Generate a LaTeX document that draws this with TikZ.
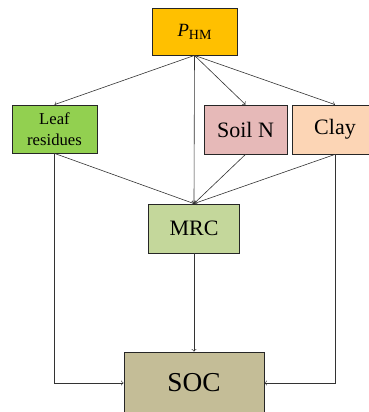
\documentclass[tikz,border=0pt]{standalone}
\usepackage{fontspec}
\setmainfont{Liberation Serif}
\definecolor{phmfill}{HTML}{FFC000}
\definecolor{leaffill}{HTML}{92D050}
\definecolor{soilfill}{HTML}{E6B9B8}
\definecolor{clayfill}{HTML}{FCD5B5}
\definecolor{mrcfill}{HTML}{C4D79B}
\definecolor{socfill}{HTML}{C4BD97}
\begin{document}
\begin{tikzpicture}[x=0.75pt,y=-0.75pt,>=to,
    box/.style={draw=black!85, line width=0.6pt, inner sep=1pt, align=center,
      font=\fontsize{16.5}{17}\selectfont},
    link/.style={->, draw=black!80, line width=0.45pt}]
    \useasboundingbox (0,0) rectangle (369,412);
\node[box, fill=phmfill, minimum width=63.75pt, minimum height=35.25pt] (phm) at (194.5,31.5)
    {\fontsize{14}{15}\selectfont\textit{P}\raisebox{-0.35ex}{\fontsize{10.5}{11}\selectfont HM}};
\node[box, fill=leaffill, minimum width=63.75pt, minimum height=36pt,
    font=\fontsize{12.5}{15.5}\selectfont] (leaf) at (54.5,129) {Leaf\\residues};
\node[box, fill=soilfill, minimum width=62.25pt, minimum height=36.75pt] (soiln) at (245.5,129.5) {Soil N};
\node[box, fill=clayfill, minimum width=64.5pt, minimum height=36.75pt] (clay) at (335,129.5) {Clay};
\node[box, fill=mrcfill, minimum width=68.25pt, minimum height=36.75pt] (mrc) at (194,228.5) {MRC};
\node[box, fill=socfill, minimum width=105pt, minimum height=46.5pt,
    font=\fontsize{20.5}{21}\selectfont] (soc) at (194,383) {SOC};
% from P_HM
\draw[link] (phm.south)--(leaf.north);
\draw[link] (phm.south)--(soiln.north);
\draw[link] (phm.south)--(clay.north);
\draw[link] (phm.south)--(mrc.north);
% into MRC
\draw[link] (leaf.south)--(mrc.north);
\draw[link] (soiln.south)--(mrc.north);
\draw[link] (clay.south)--(mrc.north);
% into SOC
\draw[link] (leaf.south)|-(soc.west);
\draw[link] (clay.south)|-(soc.east);
\draw[link] (mrc.south)--(soc.north);

\end{tikzpicture}
\end{document}
